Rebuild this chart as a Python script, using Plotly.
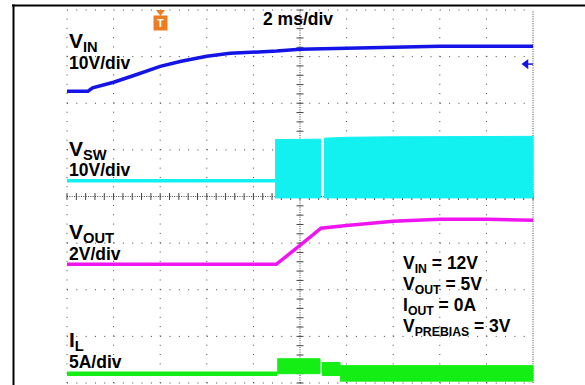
import plotly.graph_objects as go
import numpy as np

# ---------------- data ----------------
# time in ms (2 ms/div, trigger at t = 0)
vin_t = [-4.0, -3.1, -2.9, -2.0, -1.1, 0.0, 0.9, 2.0, 3.0, 4.0, 5.0, 6.0, 8.0, 10.0, 12.0, 16.0]
vin_v = [2.6, 2.6, 3.3, 4.5, 6.0, 7.9, 9.0, 10.1, 10.7, 10.9, 11.2, 11.6, 11.8, 12.0, 12.2, 12.2]

vsw_pre_t = [-4.0, 4.93]
vsw_pre_v = [3.4, 3.4]
vsw_b1_t = [4.93, 6.0, 6.88]
vsw_b1_hi = [12.2, 12.3, 12.3]
vsw_b1_lo = [-0.3, -0.3, -0.3]
vsw_b2_t = [7.03, 8.0, 10.0, 12.0, 14.0, 16.0]
vsw_b2_hi = [12.5, 12.7, 12.8, 12.8, 12.9, 12.9]
vsw_b2_lo = [-0.3, -0.3, -0.3, -0.3, -0.3, -0.3]

vout_t = [-4.0, 4.98, 6.0, 6.9, 8.0, 10.0, 12.0, 14.0, 16.0]
vout_v = [3.09, 3.09, 3.9, 4.64, 4.76, 4.94, 5.02, 5.02, 4.98]

il_pre_t = [-4.0, 5.02]
il_pre_a = [0.0, 0.0]
il_b1_t = [5.02, 6.86]
il_b1_hi = [1.6, 1.6]
il_b1_lo = [0.0, 0.0]
il_b2_t = [6.94, 7.72]
il_b2_hi = [1.2, 1.2]
il_b2_lo = [-0.2, -0.2]
il_b3_t = [7.72, 10.0, 16.0]
il_b3_hi = [0.86, 0.86, 0.86]
il_b3_lo = [-0.8, -0.8, -0.8]

trig_time = 0.0      # ms
trig_level = 8.4     # V on VIN channel

labels_params = ["V<sub>IN</sub> = 12V", "V<sub>OUT</sub> = 5V",
                 "I<sub>OUT</sub> = 0A", "V<sub>PREBIAS</sub> = 3V"]

# channel scales: (units per div, ground position in divisions from bottom)
ch_vin = (10.0, 6.0)
ch_vsw = (10.0, 4.0)
ch_vout = (2.0, 1.0)
ch_il = (5.0, 0.2)

# ---------------- geometry (layout only) ----------------
W, H = 585, 385
GL, GR, GT, GB = 67, 533, 10, 383        # graticule edges in px
T_RANGE = [-4, 16]                        # 10 div x 2 ms
PX_PER_MS = (GR - GL) / (T_RANGE[1] - T_RANGE[0])
PX_PER_DIV = (GB - GT) / 8.0


def t_of(px):
    return T_RANGE[0] + (px - GL) / PX_PER_MS


def d_of(py):
    return (GB - py) / PX_PER_DIV


X_RANGE = [t_of(0), t_of(W)]
D_RANGE = [d_of(H), d_of(0)]


def ch_range(ch):
    s, g = ch
    return [(D_RANGE[0] - g) * s, (D_RANGE[1] - g) * s]


BLUE = "#1414e6"
CYAN = "#12f0f0"
MAG = "#f014f0"
GREEN = "#14ee14"
ORANGE = "#ee7d22"
GRID = "#444"
FONT = "Liberation Sans, Arial, sans-serif"

fig = go.Figure()


def band(t, hi, lo, color, yaxis):
    xs = list(t) + list(t)[::-1]
    ys = list(hi) + list(lo)[::-1]
    fig.add_trace(go.Scatter(x=xs, y=ys, mode="lines", fill="toself", fillcolor=color,
                             line=dict(color=color, width=1), yaxis=yaxis, hoverinfo="skip"))


# VIN
fig.add_trace(go.Scatter(x=vin_t, y=vin_v, mode="lines", line=dict(color=BLUE, width=3.5), yaxis="y2"))
# VSW
fig.add_trace(go.Scatter(x=vsw_pre_t, y=vsw_pre_v, mode="lines", line=dict(color=CYAN, width=3.5), yaxis="y3"))
band(vsw_b1_t, vsw_b1_hi, vsw_b1_lo, CYAN, "y3")
band(vsw_b2_t, vsw_b2_hi, vsw_b2_lo, CYAN, "y3")
# VOUT
fig.add_trace(go.Scatter(x=vout_t, y=vout_v, mode="lines", line=dict(color=MAG, width=3.5), yaxis="y4"))
# IL
fig.add_trace(go.Scatter(x=il_pre_t, y=il_pre_a, mode="lines", line=dict(color=GREEN, width=4.5), yaxis="y5"))
band(il_b1_t, il_b1_hi, il_b1_lo, GREEN, "y5")
band(il_b2_t, il_b2_hi, il_b2_lo, GREEN, "y5")
band(il_b3_t, il_b3_hi, il_b3_lo, GREEN, "y5")

# trigger level arrow (VIN channel) at right edge
fig.add_trace(go.Scatter(x=[T_RANGE[1] - 0.3, T_RANGE[1]], y=[trig_level, trig_level], mode="lines",
                         line=dict(color=BLUE, width=1.5), yaxis="y2"))
fig.add_trace(go.Scatter(x=[T_RANGE[1] - 0.3], y=[trig_level], mode="markers",
                         marker=dict(symbol="triangle-left", size=9, color=BLUE), yaxis="y2"))

# center-axis tick marks
cx = (T_RANGE[0] + T_RANGE[1]) / 2
tick_x = np.arange(T_RANGE[0], T_RANGE[1] + 0.001, 0.4)
tick_y = np.arange(0, 8.001, 0.2)
fig.add_trace(go.Scatter(x=tick_x, y=[4] * len(tick_x), mode="markers",
                         marker=dict(symbol="line-ns", size=5, line=dict(color=GRID, width=1)),
                         yaxis="y"))
fig.add_trace(go.Scatter(x=[cx] * len(tick_y), y=tick_y, mode="markers",
                         marker=dict(symbol="line-ew", size=5, line=dict(color=GRID, width=1)),
                         yaxis="y"))

shapes = []
# dotted graticule
for i in range(11):
    x = T_RANGE[0] + 2 * i
    dash = "1px,1.33px" if i in (5, 10) else "1px,8.32px"
    shapes.append(dict(type="line", xref="x", yref="y", x0=x, x1=x, y0=0, y1=8,
                       line=dict(color=GRID, width=1, dash=dash), layer="below"))
for j in range(9):
    dash = "1px,1.33px" if j == 4 else "1px,8.32px"
    shapes.append(dict(type="line", xref="x", yref="y", x0=T_RANGE[0], x1=T_RANGE[1], y0=j, y1=j,
                       line=dict(color=GRID, width=1, dash=dash), layer="below"))
# black frame (top and left)
shapes.append(dict(type="line", xref="x", yref="y", x0=t_of(12), x1=t_of(W + 5), y0=d_of(5.5), y1=d_of(5.5),
                   line=dict(color="black", width=2)))
shapes.append(dict(type="line", xref="x", yref="y", x0=t_of(13.5), x1=t_of(13.5), y0=d_of(4.5), y1=d_of(H + 5),
                   line=dict(color="black", width=2)))
# trigger marker (small triangle above the T box)
shapes.append(dict(type="path", xref="x", yref="y",
                   path=f"M {t_of(156)} {d_of(10)} L {t_of(165)} {d_of(10)} L {t_of(160.5)} {d_of(16)} Z",
                   fillcolor=ORANGE, line=dict(width=0)))

annotations = []


def text(px, py, s, size, xanchor="left"):
    annotations.append(dict(xref="paper", yref="paper", x=px / W, y=1 - py / H, text=f"<b>{s}</b>",
                            showarrow=False, xanchor=xanchor, yanchor="middle",
                            font=dict(family=FONT, size=size, color="black")))


text(67, 42.5, "V<sub>IN</sub>", 21)
text(67, 63, "10V/div", 17.5)
text(67, 149.5, "V<sub>SW</sub>", 21)
text(67, 170, "10V/div", 17.5)
text(67, 232.5, "V<sub>OUT</sub>", 21)
text(67, 254, "2V/div", 17.5)
text(67, 340.5, "I<sub>L</sub>", 21)
text(67, 362, "5A/div", 17.5)
text(298, 19, "2 ms/div", 17.5, xanchor="center")
for k, s in enumerate(labels_params):
    text(401, 264 + 21 * k, s, 17.5)

annotations.append(dict(xref="x", yref="paper", x=trig_time, y=1 - 23.5 / H, text="<b>T</b>", showarrow=False,
                        xanchor="center", yanchor="middle", bgcolor=ORANGE, width=11, height=12,
                        font=dict(family=FONT, size=11, color="white")))

fig.update_layout(
    width=W, height=H,
    margin=dict(l=0, r=0, t=0, b=0, pad=0),
    paper_bgcolor="white", plot_bgcolor="white", showlegend=False,
    xaxis=dict(range=X_RANGE, showgrid=False, zeroline=False, showticklabels=False, ticks="", showline=False),
    yaxis=dict(range=D_RANGE, showgrid=False, zeroline=False, showticklabels=False, ticks="", showline=False),
    yaxis2=dict(range=ch_range(ch_vin), overlaying="y", visible=False),
    yaxis3=dict(range=ch_range(ch_vsw), overlaying="y", visible=False),
    yaxis4=dict(range=ch_range(ch_vout), overlaying="y", visible=False),
    yaxis5=dict(range=ch_range(ch_il), overlaying="y", visible=False),
    shapes=shapes, annotations=annotations,
)

fig.write_html("out.html", config={"displayModeBar": False},
               post_script="document.body.style.margin='0px';document.body.style.overflow='hidden';")
